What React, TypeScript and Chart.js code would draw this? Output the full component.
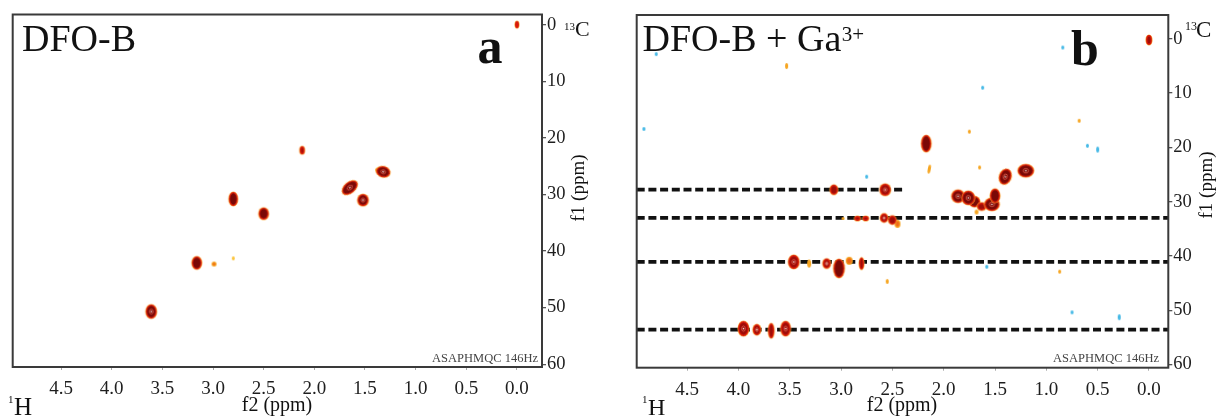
import React, { useEffect, useRef } from "react";
import { Chart, registerables } from "chart.js";

Chart.register(...registerables);

const FONT = '"Liberation Serif", "Times New Roman", serif';
Chart.defaults.font.family = FONT;

// ---- axis ticks ----
const X_TICKS = [4.5, 4.0, 3.5, 3.0, 2.5, 2.0, 1.5, 1.0, 0.5, 0.0];
const Y_TICKS = [0, 10, 20, 30, 40, 50, 60];

// ---- axis ranges (ppm) ----
const RANGE_A = { xMin: -0.247, xMax: 4.977, yMin: -1.8, yMax: 60.5 };
const RANGE_B = { xMin: -0.188, xMax: 4.99, yMin: -4.4, yMax: 60.6 };

// ---- panel a: DFO-B cross peaks [f2 (1H ppm), f1 (13C ppm)] ----
const PEAKS_A: [number, number][] = [
  [0.0, 0.0],
  [2.12, 22.2],
  [2.8, 30.8],
  [2.5, 33.4],
  [3.16, 42.1],
  [2.99, 42.3],
  [2.8, 41.3],
  [3.61, 50.7],
  [1.65, 28.8],
  [1.52, 31.0],
  [1.37, 25.7],
  [1.32, 26.0],
];

// ---- panel b: DFO-B + Ga3+ ----
const PEAKS_B_STRONG: [number, number][] = [
  [0.0, 0.2],
  [2.17, 19.3],
  [1.4, 25.4],
  [1.2, 24.3],
  [1.7, 30.0],
  [1.86, 29.0],
  [1.76, 29.3],
  [1.63, 30.9],
  [1.53, 30.5],
  [1.5, 28.9],
  [3.07, 27.8],
  [2.57, 27.8],
  [2.84, 33.1],
  [2.76, 33.1],
  [2.58, 33.0],
  [2.5, 33.4],
  [3.46, 41.1],
  [3.14, 41.4],
  [3.02, 42.3],
  [2.8, 41.4],
  [3.95, 53.4],
  [3.82, 53.6],
  [3.68, 53.8],
  [3.54, 53.4],
];
const PEAKS_B_WEAK: [number, number][] = [
  [3.53, 5.0],
  [1.75, 17.1],
  [1.65, 23.7],
  [0.68, 15.1],
  [0.87, 42.9],
  [2.55, 44.7],
  [2.98, 33.1],
  [2.14, 24.0],
  [1.68, 31.9],
  [2.45, 34.1],
  [3.31, 41.4],
  [2.92, 40.9],
];
const NOISE_B: [number, number][] = [
  [4.8, 2.8],
  [4.92, 16.6],
  [2.75, 25.4],
  [1.62, 9.0],
  [0.84, 1.6],
  [0.6, 19.7],
  [0.5, 20.4],
  [1.58, 42.0],
  [0.75, 50.4],
  [0.29, 51.3],
];

// dashed guide lines in panel b: 13C level and where each line ends on f2
const GUIDE_Y_B = [27.8, 33.0, 41.1, 53.6];
const GUIDE_END_B = [2.37, RANGE_B.xMin, RANGE_B.xMin, RANGE_B.xMin];

// ---- contour looks (style only): kind, width px, height px, rotation deg ----
type Look = [string, number, number, number];
const LOOK_A: Look[] = [
  ["red", 4, 7, 0],
  ["red", 5, 8, 0],
  ["dark", 9, 14, 0],
  ["dark", 10, 12, 0],
  ["dark", 10, 13, 0],
  ["orange", 5, 5, 0],
  ["yellow", 3, 4, 0],
  ["darkc", 11, 14, 0],
  ["darkc", 18, 11, -40],
  ["darkc", 11, 12, 0],
  ["orange", 6, 5, 0],
  ["darkc", 14, 11, 15],
];
const LOOK_B_STRONG: Look[] = [
  ["red", 6, 10, 0],
  ["dark", 10, 17, 0],
  ["darkc", 12, 16, 20],
  ["darkc", 16, 13, 0],
  ["dark", 11, 11, 0],
  ["darkc", 13, 13, 0],
  ["darkc", 13, 14, 0],
  ["red", 9, 8, 0],
  ["darkc", 15, 13, 0],
  ["dark", 10, 14, 0],
  ["red", 8, 10, 0],
  ["redc", 11, 12, 0],
  ["red", 6, 5, 0],
  ["red", 6, 5, 0],
  ["redc", 8, 9, 0],
  ["red", 8, 9, 0],
  ["redc", 11, 14, 0],
  ["redc", 8, 10, 0],
  ["dark", 11, 19, 0],
  ["red", 5, 12, 0],
  ["redc", 11, 15, 0],
  ["redc", 8, 11, 0],
  ["red", 6, 15, 0],
  ["redc", 10, 15, 0],
];
const LOOK_B_WEAK: Look[] = [
  ["orange", 3, 6, 0],
  ["orange", 3, 4, 0],
  ["orange", 3, 4, 0],
  ["orange", 3, 4, 0],
  ["orange", 3, 4, 0],
  ["orange", 3, 5, 0],
  ["orange", 3, 3, 0],
  ["orange", 3, 9, 10],
  ["orange", 4, 5, 0],
  ["orange", 6, 8, 0],
  ["orange", 4, 8, 0],
  ["orange", 7, 8, 0],
];
const LOOK_NOISE: Look[] = NOISE_B.map((_, i) =>
  i === 9 || i === 6 ? ["cyan", 3, 6, 0] : ["cyan", 3, 4, 0]
);

const COLORS = {
  glow: "rgba(247,165,45,0.9)",
  rim: "#dc1e0c",
  core: "#7a0906",
  red: "#d8190b",
  redDeep: "#9e0d08",
  orange: "#f6a520",
  orangeDeep: "#ef6b18",
  yellow: "#fbc43c",
  cyan: "#45b9e6",
  ring: "#d85848",
  dot: "#fff3ee",
};

function fillEllipse(ctx: CanvasRenderingContext2D, cx: number, cy: number, rx: number, ry: number, color: string) {
  if (rx <= 0.2 || ry <= 0.2) return;
  ctx.beginPath();
  ctx.ellipse(cx, cy, rx, ry, 0, 0, Math.PI * 2);
  ctx.fillStyle = color;
  ctx.fill();
}

function makePeakImage(kind: string, w: number, h: number): HTMLCanvasElement {
  const c = document.createElement("canvas");
  const W = Math.ceil(w) + 4;
  const H = Math.ceil(h) + 4;
  c.width = W;
  c.height = H;
  const ctx = c.getContext("2d") as CanvasRenderingContext2D;
  const cx = W / 2;
  const cy = H / 2;
  const rx = w / 2;
  const ry = h / 2;
  const centre = () => {
    ctx.beginPath();
    ctx.ellipse(cx, cy, Math.max(rx * 0.34, 1.2), Math.max(ry * 0.34, 1.2), 0, 0, Math.PI * 2);
    ctx.strokeStyle = COLORS.ring;
    ctx.lineWidth = 0.9;
    ctx.stroke();
    fillEllipse(ctx, cx, cy, 0.8, 0.8, COLORS.dot);
  };
  if (kind === "dark" || kind === "darkc") {
    fillEllipse(ctx, cx, cy, rx + 0.6, ry + 0.6, COLORS.glow);
    fillEllipse(ctx, cx, cy, rx - 0.1, ry - 0.1, COLORS.rim);
    fillEllipse(ctx, cx, cy, rx - 1.3, ry - 1.3, COLORS.core);
    if (kind === "darkc") centre();
  } else if (kind === "red" || kind === "redc") {
    fillEllipse(ctx, cx, cy, rx + 0.6, ry + 0.6, COLORS.glow);
    fillEllipse(ctx, cx, cy, rx - 0.1, ry - 0.1, COLORS.red);
    if (rx > 2.4) fillEllipse(ctx, cx, cy, rx - 1.5, ry - 1.5, COLORS.redDeep);
    if (kind === "redc") centre();
  } else if (kind === "orange") {
    fillEllipse(ctx, cx, cy, rx, ry, COLORS.orange);
    if (rx > 2) fillEllipse(ctx, cx, cy, rx - 1.2, ry - 1.2, COLORS.orangeDeep);
  } else if (kind === "yellow") {
    fillEllipse(ctx, cx, cy, rx, ry, COLORS.yellow);
  } else {
    fillEllipse(ctx, cx, cy, rx, ry, COLORS.cyan);
  }
  return c;
}

type TextItem = {
  text: string;
  x?: number;
  y: number;
  size: number;
  bold?: boolean;
  align?: CanvasTextAlign;
  baseline?: CanvasTextBaseline;
  rotate?: number;
  color?: string;
  gap?: number;
};

const decorPlugin = {
  id: "decor",
  afterDraw(chart: any, _args: any, opts: any) {
    const { ctx, chartArea: a } = chart;
    ctx.save();
    ctx.strokeStyle = "#3a3a3a";
    ctx.lineWidth = 2;
    ctx.strokeRect(a.left, a.top, a.right - a.left, a.bottom - a.top);
    let lastEnd = 0;
    for (const t of (opts.texts || []) as TextItem[]) {
      ctx.save();
      ctx.font = `${t.bold ? "bold " : ""}${t.size}px ${FONT}`;
      ctx.fillStyle = t.color || "#111";
      ctx.textAlign = t.align || "left";
      ctx.textBaseline = t.baseline || "alphabetic";
      const x = t.x !== undefined ? t.x : lastEnd + (t.gap || 0);
      if (t.rotate) {
        ctx.translate(x, t.y);
        ctx.rotate((t.rotate * Math.PI) / 180);
        ctx.fillText(t.text, 0, 0);
      } else {
        ctx.fillText(t.text, x, t.y);
      }
      lastEnd = x + ctx.measureText(t.text).width;
      ctx.restore();
    }
    ctx.restore();
  },
};

const TEXTS_A: TextItem[] = [
  { text: "DFO-B", x: 22, y: 51, size: 38 },
  { text: "a", x: 477.5, y: 63, size: 50, bold: true },
  { text: "13", x: 564, y: 30, size: 11 },
  { text: "C", x: 575, y: 36, size: 22 },
  { text: "f1 (ppm)", x: 579, y: 188, size: 19, align: "center", baseline: "middle", rotate: -90 },
  { text: "f2 (ppm)", x: 277, y: 411, size: 20, align: "center" },
  { text: "1", x: 8, y: 403, size: 11 },
  { text: "H", x: 14, y: 415, size: 25 },
  { text: "ASAPHMQC 146Hz", x: 538, y: 362, size: 12.5, align: "right", color: "#444" },
];

const TEXTS_B: TextItem[] = [
  { text: "DFO-B + Ga", x: 34.5, y: 51, size: 38 },
  { text: "3+", y: 41, size: 21, gap: 0.5 },
  { text: "b", x: 463, y: 65, size: 50, bold: true },
  { text: "13", x: 577, y: 30, size: 12 },
  { text: "C", x: 588, y: 37, size: 23 },
  { text: "f1 (ppm)", x: 599, y: 185, size: 19, align: "center", baseline: "middle", rotate: -90 },
  { text: "f2 (ppm)", x: 294, y: 411, size: 20, align: "center" },
  { text: "1", x: 34, y: 403, size: 11 },
  { text: "H", x: 40, y: 415, size: 24 },
  { text: "ASAPHMQC 146Hz", x: 551, y: 362, size: 12.5, align: "right", color: "#444" },
];

function peakDataset(points: [number, number][], looks: Look[], order: number) {
  const images = looks.map(([k, w, h]) => makePeakImage(k, w, h));
  return {
    data: points.map(([x, y]) => ({ x, y })),
    pointStyle: images,
    pointRotation: looks.map((l) => l[3]),
    pointRadius: 3,
    showLine: false,
    order,
    clip: 0,
  };
}

function buildConfig(
  range: { xMin: number; xMax: number; yMin: number; yMax: number },
  datasets: any[],
  texts: TextItem[],
  yWidth: number,
  xHeight: number,
  padLeft: number,
  padTop: number
): any {
  return {
    type: "scatter",
    data: { datasets },
    options: {
      animation: false,
      responsive: false,
      devicePixelRatio: 1,
      events: [],
      layout: { padding: { left: padLeft, top: padTop, right: 0, bottom: 0 } },
      plugins: {
        legend: { display: false },
        tooltip: { enabled: false },
        decor: { texts },
      },
      scales: {
        x: {
          type: "linear",
          reverse: true,
          min: range.xMin,
          max: range.xMax,
          afterBuildTicks: (s: any) => {
            s.ticks = X_TICKS.map((v) => ({ value: v }));
          },
          afterFit: (s: any) => {
            s.height = xHeight;
          },
          ticks: {
            callback: (v: any) => Number(v).toFixed(1),
            font: { size: 19, family: FONT },
            color: "#1e1e1e",
            padding: 7.5,
            maxRotation: 0,
            autoSkip: false,
          },
          grid: { display: true, drawOnChartArea: false, drawTicks: true, tickLength: 3, color: "#aaa", lineWidth: 1 },
          border: { display: false },
        },
        y: {
          type: "linear",
          position: "right",
          reverse: true,
          min: range.yMin,
          max: range.yMax,
          afterBuildTicks: (s: any) => {
            s.ticks = Y_TICKS.map((v) => ({ value: v }));
          },
          afterFit: (s: any) => {
            s.width = yWidth;
          },
          ticks: {
            callback: (v: any) => String(v),
            font: { size: 18.5, family: FONT },
            color: "#1e1e1e",
            padding: 1,
            autoSkip: false,
          },
          grid: { display: true, drawOnChartArea: false, drawTicks: true, tickLength: 4, color: "#555", lineWidth: 1.3 },
          border: { display: false },
        },
      },
    },
    plugins: [decorPlugin],
  };
}

function configA() {
  return buildConfig(RANGE_A, [peakDataset(PEAKS_A, LOOK_A, 1)], TEXTS_A, 66, 49, 12.7, 14.5);
}

function configB() {
  const guides = GUIDE_Y_B.map((y, i) => ({
    type: "line",
    data: [
      { x: RANGE_B.xMax, y },
      { x: GUIDE_END_B[i], y },
    ],
    showLine: true,
    borderColor: "#111",
    borderWidth: 3.8,
    borderDash: [8, 3.7],
    borderCapStyle: "butt",
    pointRadius: 0,
    fill: false,
    order: 5,
    clip: 0,
  }));
  return buildConfig(
    RANGE_B,
    [
      peakDataset(PEAKS_B_STRONG, LOOK_B_STRONG, 1),
      peakDataset(PEAKS_B_WEAK, LOOK_B_WEAK, 2),
      peakDataset(NOISE_B, LOOK_NOISE, 3),
      ...guides,
    ],
    TEXTS_B,
    48.7,
    48.3,
    28.7,
    15
  );
}

function Panel({ make, width }: { make: () => any; width: number }) {
  const ref = useRef<HTMLCanvasElement>(null);
  useEffect(() => {
    const chart = new Chart(ref.current as HTMLCanvasElement, make());
    return () => chart.destroy();
  }, []);
  return <canvas ref={ref} width={width} height={416} style={{ display: "block", width, height: 416 }} />;
}

export default function App() {
  return (
    <div
      style={{
        position: "absolute",
        left: 0,
        top: 0,
        width: 1217,
        height: 416,
        display: "flex",
        background: "#fff",
        overflow: "hidden",
      }}
    >
      <Panel make={configA} width={608} />
      <Panel make={configB} width={609} />
    </div>
  );
}
